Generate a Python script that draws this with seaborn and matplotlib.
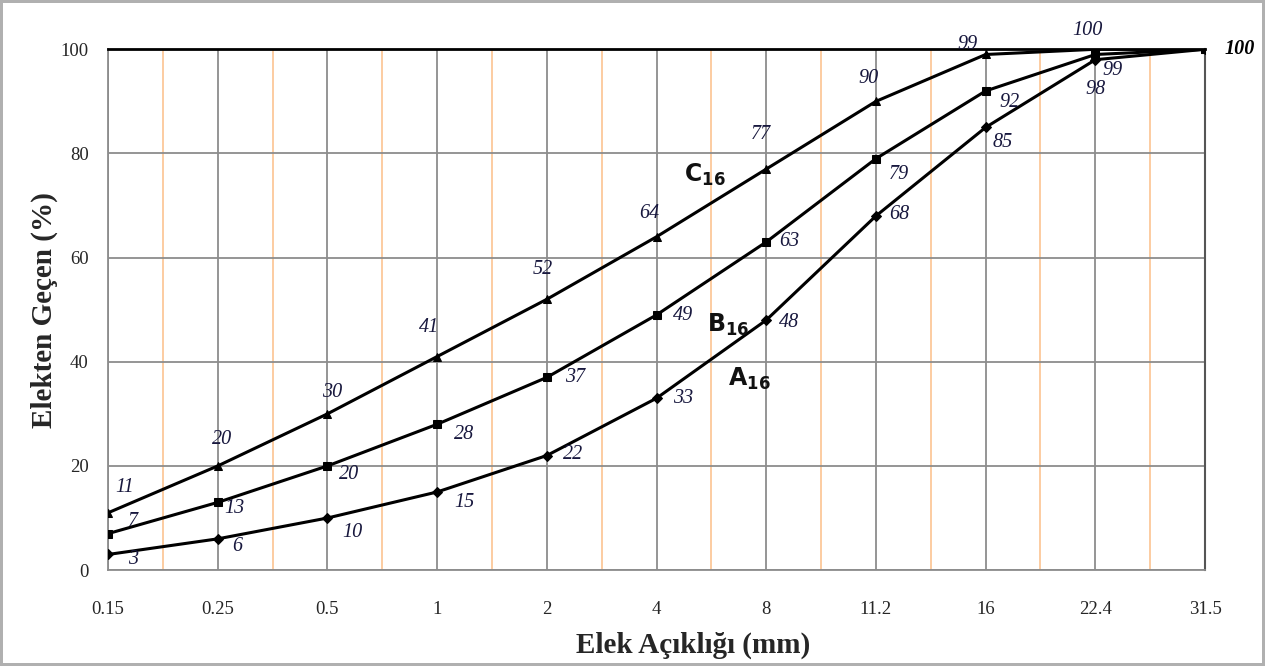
import matplotlib
matplotlib.use('Agg')
import matplotlib.pyplot as plt
import seaborn as sns
import pandas as pd
import numpy as np

# sieve sizes (mm) and passing percentages
sieves = ['0.15', '0.25', '0.5', '1', '2', '4', '8', '11.2', '16', '22.4', '31.5']
a16 = [3, 6, 10, 15, 22, 33, 48, 68, 85, 98, 100]
b16 = [7, 13, 20, 28, 37, 49, 63, 79, 92, 99, 100]
c16 = [11, 20, 30, 41, 52, 64, 77, 90, 99, 100, 100]

# label offsets in pixels (dx, dy) per point
off_a = [(25, -5), (20, -8), (25, -14), (27, -11), (26, 1), (27, 0), (23, -2), (23, 1), (17, -15), (0, -30), (35, 0)]
off_b = [(25, 12), (17, -6), (22, -9), (27, -10), (28, 0), (27, -1), (23, 0), (23, -16), (24, -12), (17, -16), None]
off_c = [(17, 25), (4, 26), (5, 21), (-8, 29), (-4, 30), (-7, 23), (-5, 35), (-7, 23), (-18, 10), (-8, 19), None]

df = pd.concat([
    pd.DataFrame({'pos': range(len(sieves)), 'val': a16, 'seri': 'A'}),
    pd.DataFrame({'pos': range(len(sieves)), 'val': b16, 'seri': 'B'}),
    pd.DataFrame({'pos': range(len(sieves)), 'val': c16, 'seri': 'C'}),
])

sns.set_style('white')
plt.rcParams['font.family'] = ['Liberation Serif', 'DejaVu Serif']

fig = plt.figure(figsize=(12.65, 6.66), dpi=100, edgecolor='#b0b0b0', linewidth=3)
ax = fig.add_axes([0.0854, 0.144, 0.8672, 0.782])

# grid lines
for i in range(len(sieves)):
    ax.axvline(i, color='#8c8c8c', lw=1.3, zorder=0)
for i in range(len(sieves) - 1):
    ax.axvline(i + 0.5, color='#fcc89a', lw=1.3, zorder=0)
for v in range(0, 101, 20):
    ax.axhline(v, color='#8c8c8c', lw=1.3, zorder=0)

sns.lineplot(data=df, x='pos', y='val', hue='seri', style='seri',
             markers={'A': 'D', 'B': 's', 'C': '^'}, dashes=False,
             palette=['black', 'black', 'black'], lw=2.2,
             markersize=5.5, markeredgecolor='black', legend=False, ax=ax, zorder=3)

lab_color = '#18183e'
for vals, offs in [(a16, off_a), (b16, off_b), (c16, off_c)]:
    for i, (v, o) in enumerate(zip(vals, offs)):
        if o is None:
            continue
        w = 'bold' if (i == len(vals) - 1) else 'normal'
        ax.annotate(str(v), (i, v), xytext=o, textcoords='offset pixels',
                    ha='center', va='center', fontsize=14.5, style='italic',
                    fontweight=w, color=lab_color if w == 'normal' else 'black',
                    annotation_clip=False)

# curve names
for txt, x, y in [('C', 5.44, 75.8), ('B', 5.65, 47.0), ('A', 5.85, 36.8)]:
    ax.text(x, y, r'$\mathbf{' + txt + r'_{16}}$', fontsize=17, ha='center', va='center',
            family='DejaVu Sans', color='#111111')

ax.set_xlim(0, len(sieves) - 1)
ax.set_ylim(0, 100)
ax.set_xticks(range(len(sieves)))
ax.set_xticklabels(sieves)
ax.set_yticks(range(0, 101, 20))
ax.tick_params(axis='x', length=0, pad=22, labelsize=13.5)
ax.tick_params(axis='y', length=6, color='#8c8c8c', width=1.3, pad=8, labelsize=13.5)
ax.set_xlabel('Elek Açıklığı (mm)', fontsize=21, fontweight='bold', labelpad=6)
ax.set_ylabel('Elekten Geçen (%)', fontsize=21, fontweight='bold', labelpad=2)
ax.xaxis.set_label_coords(0.533, -0.118)

for s in ['left', 'bottom']:
    ax.spines[s].set_color('#8c8c8c')
    ax.spines[s].set_linewidth(1.3)
ax.spines['right'].set_color('#555555')
ax.spines['right'].set_linewidth(1.5)
ax.spines['top'].set_color('black')
ax.spines['top'].set_linewidth(2)

fig.savefig('out.png', dpi=100, edgecolor=fig.get_edgecolor())
